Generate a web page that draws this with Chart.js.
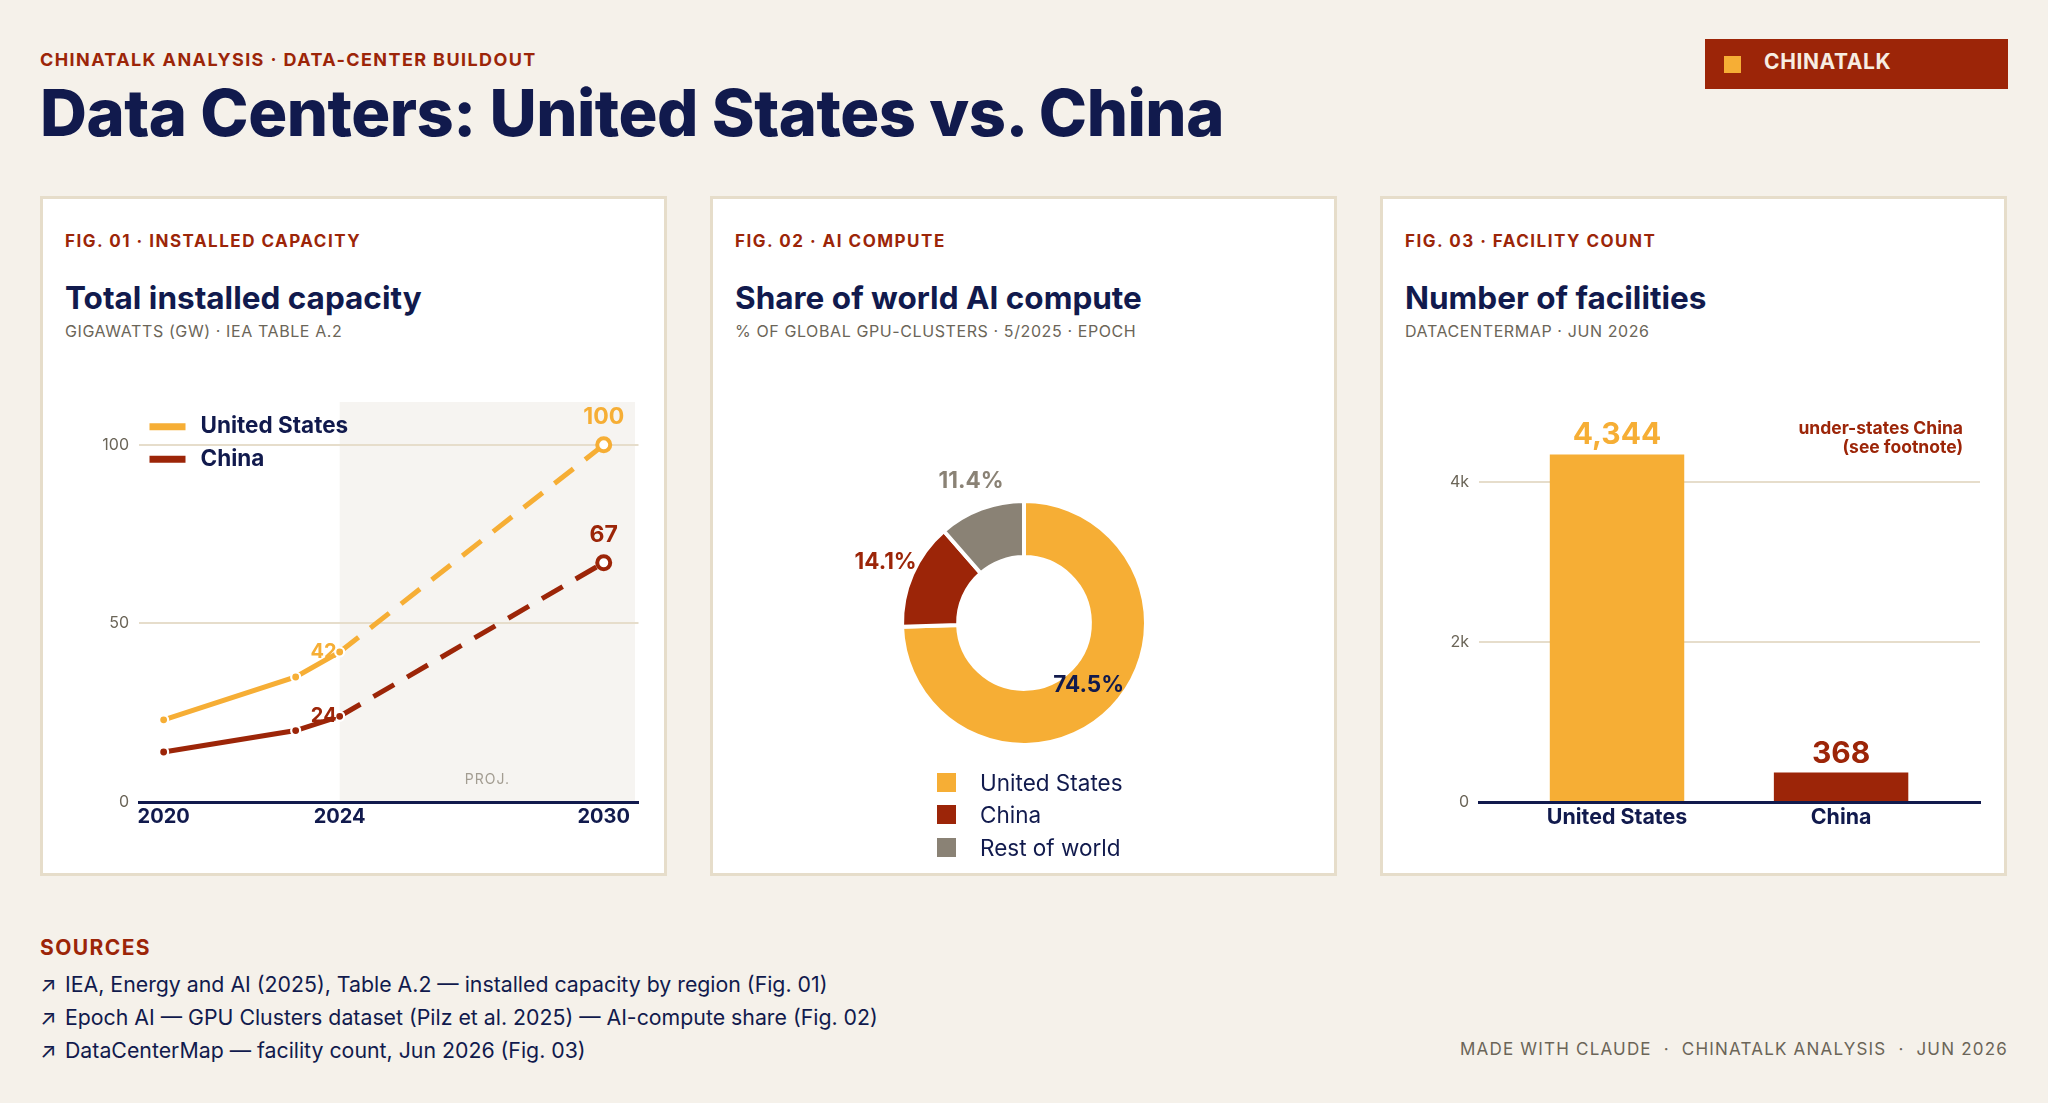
<!DOCTYPE html>
<html>
<head>
<meta charset="utf-8">
<title>Data Centers: United States vs. China</title>
<script src="https://cdn.jsdelivr.net/npm/chart.js@4.4.1/dist/chart.umd.min.js"></script>
<style>
  body { margin: 0; width: 2048px; height: 1103px; background: #f5f1ea; font-family: Inter, "Noto Sans", sans-serif; position: relative; overflow: hidden; color: #111a4d; }
  .abs { position: absolute; line-height: 1; white-space: nowrap; }
  .kicker { left: 40px; top: 51px; font-size: 18px; font-weight: 700; color: #9c2508; letter-spacing: 1.4px; }
  .title { left: 40px; top: 80px; font-size: 65px; font-weight: 800; color: #111a4d; letter-spacing: -0.5px; }
  .badge { position: absolute; left: 1705px; top: 39px; width: 303px; height: 50px; background: #9c2508; }
  .badge .sq { position: absolute; left: 19px; top: 17px; width: 17px; height: 17px; background: #f6ae35; }
  .badge .txt { left: 59px; top: 12px; font-size: 21px; font-weight: 700; color: #f7ede2; letter-spacing: 0.6px; }
  .panel { position: absolute; top: 196px; width: 627px; height: 680px; box-sizing: border-box; background: #fff; border: 3px solid #e6ddca; }
  .fig { left: 22px; top: 34px; font-size: 17px; font-weight: 700; color: #9c2508; letter-spacing: 1.5px; }
  .ptitle { left: 22px; top: 83px; font-size: 31.5px; font-weight: 700; color: #111a4d; }
  .psub { left: 22px; top: 124px; font-size: 16px; color: #6b6558; letter-spacing: 0.6px; }
  canvas { position: absolute; }
  .dlegend { position: absolute; left: 937px; top: 766px; }
  .dlegend div { display: flex; align-items: center; height: 32.5px; font-size: 22.5px; color: #111a4d; }
  .dlegend span.sw { width: 19px; height: 19px; margin-right: 24px; }
  .sources-h { left: 40px; top: 937px; font-size: 21px; font-weight: 700; color: #9c2508; letter-spacing: 1.4px; }
  .src { left: 40px; font-size: 21.3px; color: #111a4d; }
  .src .ar { display: inline-block; width: 25px; }
  .footer { right: 40px; top: 1041px; font-size: 17px; color: #6b6558; letter-spacing: 1.2px; }
</style>
</head>
<body>
<div class="abs kicker">CHINATALK ANALYSIS · DATA-CENTER BUILDOUT</div>
<div class="abs title">Data Centers: United States vs. China</div>
<div class="badge"><div class="sq"></div><div class="abs txt">CHINATALK</div></div>

<div class="panel" style="left:40px">
  <div class="abs fig">FIG. 01 · INSTALLED CAPACITY</div>
  <div class="abs ptitle">Total installed capacity</div>
  <div class="abs psub">GIGAWATTS (GW) · IEA TABLE A.2</div>
</div>
<div class="panel" style="left:710px">
  <div class="abs fig">FIG. 02 · AI COMPUTE</div>
  <div class="abs ptitle">Share of world AI compute</div>
  <div class="abs psub">% OF GLOBAL GPU-CLUSTERS · 5/2025 · EPOCH</div>
</div>
<div class="panel" style="left:1380px">
  <div class="abs fig">FIG. 03 · FACILITY COUNT</div>
  <div class="abs ptitle">Number of facilities</div>
  <div class="abs psub">DATACENTERMAP · JUN 2026</div>
</div>

<canvas id="capacity" width="570" height="450" style="left:80px; top:390px"></canvas>
<canvas id="share" width="440" height="348" style="left:804px; top:449px"></canvas>
<div class="dlegend" id="shareLegend"></div>
<canvas id="facilities" width="600" height="450" style="left:1400px; top:390px"></canvas>

<div class="abs sources-h">SOURCES</div>
<div class="abs src" style="top:974px"><span class="ar">↗</span>IEA, Energy and AI (2025), Table A.2 — installed capacity by region (Fig. 01)</div>
<div class="abs src" style="top:1007px"><span class="ar">↗</span>Epoch AI — GPU Clusters dataset (Pilz et al. 2025) — AI-compute share (Fig. 02)</div>
<div class="abs src" style="top:1040px"><span class="ar">↗</span>DataCenterMap — facility count, Jun 2026 (Fig. 03)</div>
<div class="abs footer">MADE WITH CLAUDE &nbsp;·&nbsp; CHINATALK ANALYSIS &nbsp;·&nbsp; JUN 2026</div>

<script>
// Fig. 01 - installed capacity (GW)
const capacityYears = [2020, 2023, 2024, 2030];
const usCapacity = [23, 35, 42, 100];
const chinaCapacity = [14, 20, 24, 67];
const capacityXTicks = [2020, 2024, 2030];
const capacityYTicks = [0, 50, 100];
const projectionFrom = 2024;

// Fig. 02 - share of world AI compute (%)
const shareLabels = ['United States', 'China', 'Rest of world'];
const shareValues = [74.5, 14.1, 11.4];

// Fig. 03 - number of facilities
const facilityLabels = ['United States', 'China'];
const facilityCounts = [4344, 368];
const facilityYTicks = [0, 2000, 4000];

const NAVY = '#111a4d';
const RED = '#9c2508';
const GOLD = '#f6ae35';
const STONE = '#8a8275';
const GRID = '#e6ddcb';
const MUTED = '#6b6558';

Chart.defaults.font.family = 'Inter';
Chart.defaults.animation = false;
Chart.defaults.plugins.legend.display = false;
Chart.defaults.plugins.tooltip.enabled = false;

const gridColor = ctx => ctx.tick && ctx.tick.value === 0 ? 'rgba(0,0,0,0)' : GRID;
// keep the plot area where the layout padding puts it
const noTickPadding = s => { s.paddingTop = 0; s.paddingBottom = 0; };

//Line chart
function capacitySeries(label, values, color) {
    const last = values.length - 1;
    return {
        label: label,
        data: capacityYears.map((x, i) => ({ x: x, y: values[i] })),
        borderColor: color,
        backgroundColor: color,
        borderWidth: 5,
        pointRadius: ctx => ctx.dataIndex === last ? 6.5 : 4.5,
        pointBackgroundColor: ctx => ctx.dataIndex === last ? '#fff' : color,
        pointBorderColor: ctx => ctx.dataIndex === last ? color : '#fff',
        pointBorderWidth: ctx => ctx.dataIndex === last ? 4 : 2.2,
        segment: {
            borderDash: ctx => ctx.p0.parsed.x >= projectionFrom ? [24, 15] : undefined
        },
        clip: false
    };
}

const capacityDecor = {
    id: 'capacityDecor',
    beforeDraw(chart) {
        const { ctx, chartArea: a, scales: { x } } = chart;
        const x0 = x.getPixelForValue(projectionFrom);
        ctx.save();
        ctx.fillStyle = '#f6f4f1';
        ctx.fillRect(x0, a.top, a.right - 3.5 - x0, a.bottom - a.top);
        ctx.font = '14px Inter';
        ctx.fillStyle = '#a39d92';
        ctx.letterSpacing = '1px';
        ctx.textAlign = 'center';
        ctx.textBaseline = 'alphabetic';
        ctx.fillText('PROJ.', (x0 + a.right - 3.5) / 2, a.bottom - 18);
        ctx.restore();
    },
    afterDatasetsDraw(chart) {
        const { ctx, chartArea: a } = chart;
        const mid = capacityYears.indexOf(projectionFrom);
        ctx.save();
        chart.data.datasets.forEach((ds, i) => {
            const meta = chart.getDatasetMeta(i);
            const values = ds.data.map(d => d.y);
            const pm = meta.data[mid];
            const pe = meta.data[values.length - 1];
            ctx.fillStyle = ds.borderColor;
            ctx.font = '700 20px Inter';
            ctx.textAlign = 'right';
            ctx.textBaseline = 'middle';
            ctx.fillText(String(values[mid]), pm.x - 3, pm.y);
            ctx.font = '700 23px Inter';
            ctx.textAlign = 'center';
            ctx.textBaseline = 'alphabetic';
            ctx.fillText(String(values[values.length - 1]), pe.x, pe.y - 21);
            // legend
            const ly = a.top + 24.7 + i * 32.5;
            ctx.strokeStyle = ds.borderColor;
            ctx.lineWidth = 7;
            ctx.beginPath();
            ctx.moveTo(a.left + 10.5, ly);
            ctx.lineTo(a.left + 46.5, ly);
            ctx.stroke();
            ctx.fillStyle = NAVY;
            ctx.font = '700 22.5px Inter';
            ctx.textAlign = 'left';
            ctx.textBaseline = 'middle';
            ctx.fillText(ds.label, a.left + 61.5, ly);
        });
        ctx.restore();
    }
};

new Chart(document.getElementById('capacity'), {
    type: 'line',
    data: {
        datasets: [
            capacitySeries('United States', usCapacity, GOLD),
            capacitySeries('China', chinaCapacity, RED)
        ]
    },
    options: {
        responsive: false,
        layout: { padding: { top: 12, right: 11.5, left: 0, bottom: 0 } },
        scales: {
            x: {
                type: 'linear',
                min: 2019.44,
                max: 2030.79,
                afterBuildTicks: s => { s.ticks = capacityXTicks.map(v => ({ value: v })); },
                afterFit: s => { s.height = 38; s.paddingLeft = 0; s.paddingRight = 0; },
                grid: { display: false, drawTicks: false },
                border: { display: true, color: NAVY, width: 3 },
                ticks: { color: NAVY, font: { size: 20, weight: '700' }, padding: 3, callback: v => String(v) }
            },
            y: {
                min: 0,
                max: 112,
                afterBuildTicks: s => { s.ticks = capacityYTicks.map(v => ({ value: v })); },
                afterFit: s => { s.width = 59; noTickPadding(s); },
                grid: { color: gridColor, lineWidth: 2, drawTicks: false },
                border: { display: false },
                ticks: { color: MUTED, font: { size: 16 }, padding: 10 }
            }
        }
    },
    plugins: [capacityDecor]
});

//Doughnut
const shareColors = [GOLD, RED, STONE];
const shareLabelColors = [NAVY, RED, STONE];

const shareText = {
    id: 'shareText',
    afterDatasetsDraw(chart) {
        const ctx = chart.ctx;
        const meta = chart.getDatasetMeta(0);
        ctx.save();
        ctx.font = '700 22.5px Inter';
        ctx.textAlign = 'center';
        ctx.textBaseline = 'middle';
        meta.data.forEach((arc, i) => {
            const p = arc.getProps(['x', 'y', 'startAngle', 'endAngle', 'innerRadius', 'outerRadius'], true);
            const ang = (p.startAngle + p.endAngle) / 2;
            // big slice labelled inside the ring, small ones just outside it
            const r = shareValues[i] > 50 ? (p.innerRadius + p.outerRadius) / 2 - 4 : p.outerRadius + 29;
            ctx.fillStyle = shareLabelColors[i];
            ctx.fillText(shareValues[i].toFixed(1) + '%', p.x + Math.cos(ang) * r, p.y + Math.sin(ang) * r);
        });
        ctx.restore();
    }
};

new Chart(document.getElementById('share'), {
    type: 'doughnut',
    data: {
        labels: shareLabels,
        datasets: [{
            data: shareValues,
            backgroundColor: shareColors,
            borderColor: '#fff',
            borderWidth: 4,
            hoverOffset: 0
        }]
    },
    options: {
        responsive: false,
        cutout: '54%',
        layout: { padding: { top: 50, bottom: 50, left: 96, right: 96 } }
    },
    plugins: [shareText]
});

const legendBox = document.getElementById('shareLegend');
shareLabels.forEach((label, i) => {
    const row = document.createElement('div');
    row.innerHTML = '<span class="sw" style="background:' + shareColors[i] + '"></span>' + label;
    legendBox.appendChild(row);
});

//Bar chart
const facilityColors = [GOLD, RED];

const facilityText = {
    id: 'facilityText',
    afterDatasetsDraw(chart) {
        const { ctx, chartArea: a } = chart;
        const meta = chart.getDatasetMeta(0);
        ctx.save();
        ctx.textAlign = 'center';
        ctx.textBaseline = 'alphabetic';
        ctx.font = '700 30px Inter';
        meta.data.forEach((bar, i) => {
            ctx.fillStyle = facilityColors[i];
            ctx.fillText(facilityCounts[i].toLocaleString('en-US'), bar.x, bar.y - 10);
        });
        ctx.font = '700 17.5px Inter';
        ctx.fillStyle = RED;
        ctx.textAlign = 'right';
        ctx.fillText('under-states China', a.right - 17, a.top + 32);
        ctx.fillText('(see footnote)', a.right - 17, a.top + 51);
        ctx.restore();
    }
};

new Chart(document.getElementById('facilities'), {
    type: 'bar',
    data: {
        datasets: [{
            data: facilityCounts.map((y, i) => ({ x: i, y: y })),
            backgroundColor: facilityColors,
            borderWidth: 0,
            categoryPercentage: 0.6,
            barPercentage: 1
        }]
    },
    options: {
        responsive: false,
        layout: { padding: { top: 12, right: 20, left: 0, bottom: 0 } },
        scales: {
            x: {
                type: 'linear',
                offset: false,
                min: -0.616,
                max: 1.62,
                afterBuildTicks: s => { s.ticks = facilityLabels.map((_, i) => ({ value: i })); },
                afterFit: s => { s.height = 38; s.paddingLeft = 0; s.paddingRight = 0; },
                grid: { display: false, offset: false, drawTicks: false },
                border: { display: true, color: NAVY, width: 3 },
                ticks: { color: NAVY, font: { size: 21.4, weight: '700' }, padding: 3, callback: v => facilityLabels[v] }
            },
            y: {
                min: 0,
                max: 5000,
                afterBuildTicks: s => { s.ticks = facilityYTicks.map(v => ({ value: v })); },
                afterFit: s => { s.width = 79; noTickPadding(s); },
                grid: { color: gridColor, lineWidth: 2, drawTicks: false },
                border: { display: false },
                ticks: { color: MUTED, font: { size: 16 }, padding: 10, callback: v => v === 0 ? '0' : (v / 1000) + 'k' }
            }
        }
    },
    plugins: [facilityText]
});
</script>
</body>
</html>
